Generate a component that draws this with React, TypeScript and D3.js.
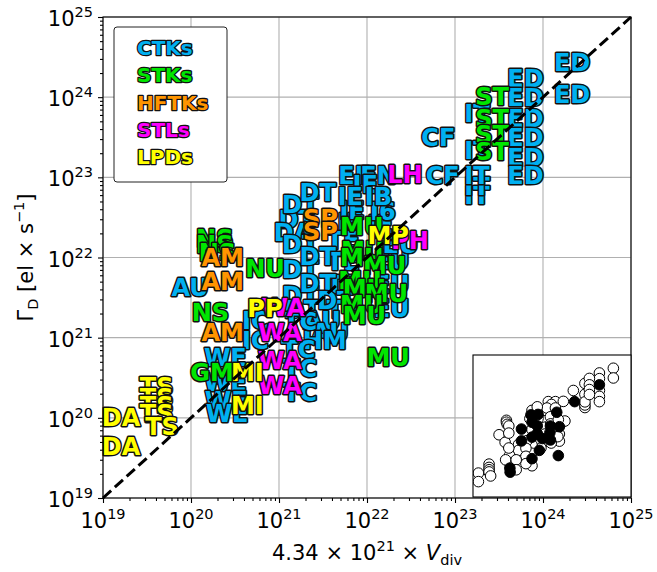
import React, { useEffect, useRef } from 'react';
import * as d3 from 'd3';

// all positions are log10 exponents: x = log10(4.34e21 * Vdiv), y = log10(Gamma_D)
const categories = ['CTKs', 'STKs', 'HFTKs', 'STLs', 'LPDs'];

const ctkNames = ['ED', 'ED', 'ED', 'ED', 'ED', 'ED', 'ED', 'ED',
  'IT', 'IT', 'IT', 'IT', 'IT', 'CF', 'CF', 'EF', 'FN', 'IE',
  'IE', 'IE', 'IE', 'I6', 'IE', 'IB', 'TE', 'TE', 'TE', 'TE',
  'EU', 'EU', 'EU', 'EU',
  'DT', 'DT', 'DA', 'DT', 'DT', 'DT', 'DT', 'DT', 'DT', 'DT', 'DT',
  'AU', 'AU', 'HM', 'AU', 'IC', 'IC', 'TC', 'TC', 'TC', 'TC',
  'WE', 'WE', 'WE', 'WE'];
const ctkX = [24.33, 24.33, 23.80, 23.80, 23.80, 23.80, 23.80, 23.80,
  23.25, 23.25, 23.25, 23.25, 23.25, 22.81, 22.86, 21.86, 22.13, 21.98,
  21.81, 22.15, 21.83, 22.18, 21.81, 22.13, 21.73, 21.73, 21.73, 21.73,
  22.28, 22.28, 22.38, 22.28,
  21.20, 21.24, 21.16, 21.24, 21.24, 21.24, 21.26, 21.44, 21.44, 21.44, 21.64,
  21.49, 21.58, 21.52, 19.99, 20.73, 20.73, 21.24, 21.22, 21.24, 21.24,
  20.39, 20.39, 20.40, 20.41];
const ctkY = [24.44, 24.03, 24.24, 24.00, 23.74, 23.50, 23.25, 23.03,
  23.80, 23.34, 22.78, 22.89, 23.02, 23.50, 23.03, 23.03, 23.03, 22.91,
  22.44, 22.41, 22.59, 22.58, 22.76, 22.76, 22.22, 21.95, 21.66, 21.35,
  21.97, 21.66, 22.16, 21.36,
  22.47, 22.66, 22.31, 22.16, 21.85, 21.53, 21.35, 22.81, 22.01, 21.68, 21.47,
  21.22, 21.07, 20.97, 21.63, 21.22, 20.97, 21.20, 20.85, 20.62, 20.32,
  20.76, 20.44, 20.22, 20.05];
const ctkFilled = [0, 0, 0, 0, 1, 0, 0, 0,
  0, 0, 0, 0, 0, 0, 1, 0, 0, 0,
  0, 0, 0, 1, 0, 0, 0, 0, 0, 0,
  1, 0, 0, 0,
  1, 0, 0, 1, 0, 1, 0, 0, 1, 1, 1,
  0, 0, 1, 0, 0, 0, 0, 0, 1, 0,
  0, 0, 1, 1];

const stkNames = ['NS', 'NS', 'NS', 'NU', 'NS', 'GM',
  'MU', 'MU', 'MU', 'MU', 'MU', 'MU', 'MU', 'MU', 'MU', 'MU',
  'ST', 'ST', 'ST', 'ST'];
const stkX = [20.27, 20.27, 20.30, 20.84, 20.22, 20.24,
  21.94, 21.95, 21.94, 22.20, 21.92, 21.97, 22.22, 21.94, 21.97, 22.24,
  23.42, 23.42, 23.42, 23.42];
const stkY = [22.24, 22.16, 22.07, 21.87, 21.31, 20.57,
  22.39, 22.09, 22.00, 21.90, 21.72, 21.62, 21.55, 21.41, 21.28, 20.75,
  24.01, 23.74, 23.54, 23.33];
const stkFilled = [0, 0, 0, 1, 0, 0,
  0, 0, 1, 0, 1, 0, 0, 1, 0, 1,
  0, 0, 0, 0];

const hftkNames = ['SP', 'SP', 'AM', 'AM', 'AM'];
const hftkX = [21.47, 21.47, 20.36, 20.36, 20.36];
const hftkY = [22.49, 22.32, 22.00, 21.70, 21.07];
const hftkFilled = [1, 0, 0, 0, 0];

const stlNames = ['LH', 'PH', 'WA', 'WA', 'WA', 'WA'];
const stlX = [22.43, 22.49, 21.05, 21.01, 21.01, 21.01];
const stlY = [23.04, 22.21, 21.38, 21.06, 20.72, 20.41];
const stlFilled = [0, 0, 0, 0, 0, 0];

const lpdNames = ['DA', 'DA', 'TS', 'TS', 'TS', 'TS', 'TS', 'PP', 'MI', 'MI', 'MP'];
const lpdX = [19.205, 19.205, 19.61, 19.61, 19.61, 19.61, 19.67, 20.84, 20.64, 20.64, 22.24];
const lpdY = [20.01, 19.65, 20.39, 20.25, 20.15, 20.06, 19.89, 21.37, 20.57, 20.15, 22.27];
const lpdFilled = [0, 0, 0, 0, 0, 0, 0, 1, 0, 0, 0];

const decades = [19, 20, 21, 22, 23, 24, 25];

const colors = ['#00b0f0', '#00e600', '#ff9500', '#ff00ff', '#ffff00'];

const App = () => {
  const ref = useRef<SVGSVGElement | null>(null);

  useEffect(() => {
    const svg = d3.select(ref.current);
    svg.selectAll('*').remove();

    const width = 657;
    const height = 572;
    const left = 103, right = 631, top = 17, bottom = 498;
    const font = 'DejaVu Sans, sans-serif';

    const x = d3.scaleLog().domain([1e19, 1e25]).range([left, right]);
    const y = d3.scaleLog().domain([1e19, 1e25]).range([bottom, top]);

    const groups = [
      [ctkNames, ctkX, ctkY, ctkFilled],
      [stkNames, stkX, stkY, stkFilled],
      [hftkNames, hftkX, hftkY, hftkFilled],
      [stlNames, stlX, stlY, stlFilled],
      [lpdNames, lpdX, lpdY, lpdFilled],
    ] as [string[], number[], number[], number[]][];

    const points = groups.flatMap(([names, xs, ys, fs], c) =>
      names.map((n, i) => ({ name: n, vx: Math.pow(10, xs[i]), vy: Math.pow(10, ys[i]), filled: fs[i] === 1, cat: c }))
    );

    const majors = decades.map(d => Math.pow(10, d));
    const minors: number[] = [];
    decades.slice(0, -1).forEach(d => {
      for (let k = 2; k <= 9; k++) minors.push(k * Math.pow(10, d));
    });

    svg.append('rect').attr('width', width).attr('height', height).attr('fill', '#fff');

    // grid
    const grid = svg.append('g').attr('stroke', '#b0b0b0').attr('stroke-width', 1.1);
    majors.forEach(v => {
      grid.append('line').attr('x1', x(v)).attr('x2', x(v)).attr('y1', top).attr('y2', bottom);
      grid.append('line').attr('x1', left).attr('x2', right).attr('y1', y(v)).attr('y2', y(v));
    });

    // ticks
    const xAxis = svg.append('g').attr('transform', `translate(0,${bottom})`);
    xAxis.call(d3.axisBottom(x).tickValues(majors).tickSize(5).tickFormat(() => ''));
    xAxis.call(g => g.append('g').call(d3.axisBottom(x).tickValues(minors).tickSize(3).tickFormat(() => '')));
    const yAxis = svg.append('g').attr('transform', `translate(${left},0)`);
    yAxis.call(d3.axisLeft(y).tickValues(majors).tickSize(5).tickFormat(() => ''));
    yAxis.call(g => g.append('g').call(d3.axisLeft(y).tickValues(minors).tickSize(3).tickFormat(() => '')));
    svg.selectAll('.domain').remove();
    svg.selectAll('.tick line').attr('stroke', '#000').attr('stroke-width', 1.1);

    // tick labels
    decades.forEach(d => {
      const t = svg.append('text')
        .attr('x', x(Math.pow(10, d)))
        .attr('y', bottom + 30)
        .attr('text-anchor', 'middle')
        .style('font-family', font)
        .style('font-size', '21px');
      t.append('tspan').text('10');
      t.append('tspan').attr('dy', -9).style('font-size', '14.5px').text(String(d));

      const u = svg.append('text')
        .attr('x', left - 10)
        .attr('y', y(Math.pow(10, d)) + 9)
        .attr('text-anchor', 'end')
        .style('font-family', font)
        .style('font-size', '21px');
      u.append('tspan').text('10');
      u.append('tspan').attr('dy', -9).style('font-size', '14.5px').text(String(d));
    });

    // data labels
    const lab = svg.append('g');
    points.forEach(p => {
      lab.append('text')
        .attr('x', x(p.vx))
        .attr('y', y(p.vy))
        .attr('dy', '0.36em')
        .attr('text-anchor', 'middle')
        .style('font-family', font)
        .style('font-weight', 'bold')
        .style('font-size', '24px')
        .style('paint-order', 'stroke')
        .attr('fill', colors[p.cat])
        .attr('stroke', '#111')
        .attr('stroke-width', 3)
        .attr('stroke-linejoin', 'round')
        .text(p.name);
    });

    // one-to-one line
    svg.append('line')
      .attr('x1', x(1e19)).attr('y1', y(1e19))
      .attr('x2', x(1e25)).attr('y2', y(1e25))
      .attr('stroke', '#000')
      .attr('stroke-width', 3)
      .attr('stroke-dasharray', '11,5');

    // frame
    svg.append('rect')
      .attr('x', left).attr('y', top)
      .attr('width', right - left).attr('height', bottom - top)
      .attr('fill', 'none').attr('stroke', '#000').attr('stroke-width', 1.1);

    // legend
    const leg = svg.append('g');
    leg.append('rect')
      .attr('x', 114).attr('y', 27).attr('width', 113).attr('height', 155)
      .attr('rx', 3)
      .attr('fill', '#fff').attr('stroke', '#222').attr('stroke-width', 1);
    categories.forEach((c, i) => {
      leg.append('text')
        .attr('x', 137)
        .attr('y', 48 + i * 27.2)
        .attr('dy', '0.36em')
        .style('font-family', font)
        .style('font-weight', 'bold')
        .style('font-size', '20px')
        .style('paint-order', 'stroke')
        .attr('fill', colors[i])
        .attr('stroke', '#111')
        .attr('stroke-width', 2.6)
        .attr('stroke-linejoin', 'round')
        .text(c);
    });

    // inset
    const il = 473, ir = 631, it = 355, ib = 497;
    const xi = d3.scaleLog().domain([1e19, 1e25]).range([il, ir]);
    const yi = d3.scaleLog().domain([1e19, 1e25]).range([ib, it]);
    svg.append('clipPath').attr('id', 'insetClip')
      .append('rect').attr('x', il).attr('y', it).attr('width', ir - il).attr('height', ib - it);
    svg.append('rect').attr('x', il).attr('y', it).attr('width', ir - il).attr('height', ib - it).attr('fill', '#fff');
    const ins = svg.append('g').attr('clip-path', 'url(#insetClip)');
    const ordered = points.filter(p => !p.filled).concat(points.filter(p => p.filled));
    ins.selectAll('circle')
      .data(ordered)
      .enter()
      .append('circle')
      .attr('cx', d => xi(d.vx))
      .attr('cy', d => yi(d.vy))
      .attr('r', 5.3)
      .attr('fill', d => (d.filled ? '#000' : '#fff'))
      .attr('stroke', '#000')
      .attr('stroke-width', 1);
    svg.append('rect').attr('x', il).attr('y', it).attr('width', ir - il).attr('height', ib - it)
      .attr('fill', 'none').attr('stroke', '#000').attr('stroke-width', 1.1);

    // axis titles
    const xt = svg.append('text')
      .attr('x', (left + right) / 2)
      .attr('y', 560)
      .attr('text-anchor', 'middle')
      .style('font-family', font)
      .style('font-size', '21px');
    xt.append('tspan').text('4.34 × 10');
    xt.append('tspan').attr('dy', -9).style('font-size', '14.5px').text('21');
    xt.append('tspan').attr('dy', 9).text(' × ');
    xt.append('tspan').style('font-style', 'italic').text('V');
    xt.append('tspan').attr('dy', 5).style('font-size', '14.5px').text('div');

    const yt = svg.append('text')
      .attr('transform', `translate(33,${(top + bottom) / 2}) rotate(-90)`)
      .attr('text-anchor', 'middle')
      .style('font-family', font)
      .style('font-size', '21px');
    yt.append('tspan').text('Γ');
    yt.append('tspan').attr('dy', 5).style('font-size', '14.5px').text('D');
    yt.append('tspan').attr('dy', -5).text(' [el × s');
    yt.append('tspan').attr('dy', -9).style('font-size', '14.5px').text('−1');
    yt.append('tspan').attr('dy', 9).text(']');
  }, []);

  return (
    <svg ref={ref} width={657} height={572} style={{ position: 'absolute', left: 0, top: 0 }} />
  );
};

export default App;
